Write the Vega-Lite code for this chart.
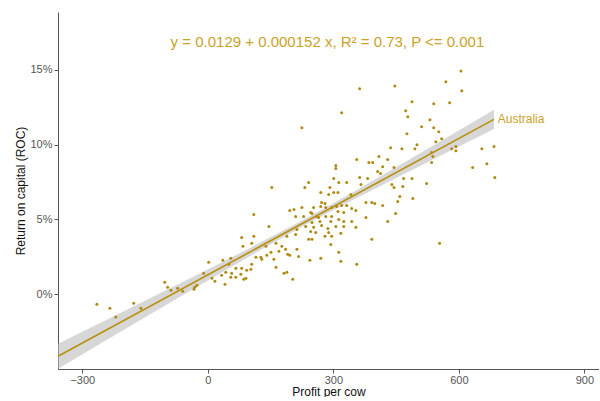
{
  "$schema": "https://vega.github.io/schema/vega-lite/v6.json",
  "width": 541,
  "height": 357,
  "padding": {"left": 14, "top": 12, "right": 0, "bottom": 0},
  "background": "white",
  "config": {
    "view": {"stroke": null},
    "font": "Liberation Sans",
    "axis": {"grid": false, "domainColor": "#555555", "tickColor": "#555555", "tickSize": 4, "labelColor": "#555555", "labelFontSize": 11, "titleColor": "#111111", "titleFontSize": 12, "titleFontWeight": "normal", "labelFont": "Liberation Sans", "titleFont": "Liberation Sans"}
  },
  "datasets": {
    "pts": [
      {"x": -265, "y": -0.0067}, {"x": -234, "y": -0.0093}, {"x": -220, "y": -0.0153}, {"x": -177, "y": -0.006}, {"x": -160, "y": -0.0093},
      {"x": -103, "y": 0.008}, {"x": -96, "y": 0.0047}, {"x": -88, "y": 0.0027}, {"x": -72, "y": 0.004}, {"x": -60, "y": 0.002},
      {"x": -33, "y": 0.0033}, {"x": -31, "y": 0.0047}, {"x": -26, "y": 0.006},
      {"x": -10, "y": 0.014}, {"x": 2, "y": 0.0213}, {"x": 10, "y": 0.0107}, {"x": 17, "y": 0.0087}, {"x": 33, "y": 0.0127},
      {"x": 36, "y": 0.0227}, {"x": 41, "y": 0.0067}, {"x": 43, "y": 0.0147}, {"x": 55, "y": 0.024}, {"x": 55, "y": 0.0113},
      {"x": 57, "y": 0.014}, {"x": 67, "y": 0.0173}, {"x": 67, "y": 0.0113}, {"x": 79, "y": 0.0133}, {"x": 81, "y": 0.038},
      {"x": 81, "y": 0.0173}, {"x": 84, "y": 0.032}, {"x": 86, "y": 0.01}, {"x": 93, "y": 0.016}, {"x": 105, "y": 0.034},
      {"x": 105, "y": 0.02}, {"x": 110, "y": 0.0533}, {"x": 110, "y": 0.0387}, {"x": 115, "y": 0.0247}, {"x": 127, "y": 0.0247},
      {"x": 129, "y": 0.0233}, {"x": 139, "y": 0.032}, {"x": 141, "y": 0.026}, {"x": 146, "y": 0.0453}, {"x": 151, "y": 0.028},
      {"x": 153, "y": 0.0713}, {"x": 158, "y": 0.0233}, {"x": 163, "y": 0.034}, {"x": 163, "y": 0.018}, {"x": 170, "y": 0.0287},
      {"x": 177, "y": 0.032}, {"x": 182, "y": 0.014}, {"x": 186, "y": 0.03}, {"x": 189, "y": 0.0387}, {"x": 191, "y": 0.0267},
      {"x": 196, "y": 0.056}, {"x": 196, "y": 0.026}, {"x": 203, "y": 0.01}, {"x": 206, "y": 0.0567}, {"x": 210, "y": 0.052},
      {"x": 213, "y": 0.0433}, {"x": 213, "y": 0.03}, {"x": 50, "y": 0.02}, {"x": 103, "y": 0.0167}, {"x": 189, "y": 0.0147},
      {"x": 91, "y": 0.0107},
      {"x": 225, "y": 0.1113}, {"x": 320, "y": 0.1213}, {"x": 363, "y": 0.1373}, {"x": 356, "y": 0.09}, {"x": 385, "y": 0.088},
      {"x": 394, "y": 0.088}, {"x": 409, "y": 0.092}, {"x": 418, "y": 0.0853}, {"x": 306, "y": 0.086}, {"x": 306, "y": 0.084},
      {"x": 301, "y": 0.0773}, {"x": 313, "y": 0.0747}, {"x": 332, "y": 0.0747}, {"x": 363, "y": 0.078}, {"x": 382, "y": 0.0773},
      {"x": 406, "y": 0.082}, {"x": 413, "y": 0.0807}, {"x": 241, "y": 0.0747}, {"x": 232, "y": 0.0713}, {"x": 292, "y": 0.0713},
      {"x": 366, "y": 0.0733}, {"x": 430, "y": 0.09}, {"x": 270, "y": 0.068}, {"x": 289, "y": 0.0667}, {"x": 301, "y": 0.068},
      {"x": 311, "y": 0.068}, {"x": 342, "y": 0.0667}, {"x": 272, "y": 0.0613}, {"x": 280, "y": 0.0607}, {"x": 270, "y": 0.0587},
      {"x": 282, "y": 0.058}, {"x": 225, "y": 0.058}, {"x": 253, "y": 0.058}, {"x": 296, "y": 0.058}, {"x": 308, "y": 0.0587},
      {"x": 320, "y": 0.0593}, {"x": 332, "y": 0.0593}, {"x": 344, "y": 0.0573}, {"x": 354, "y": 0.056}, {"x": 311, "y": 0.0553},
      {"x": 325, "y": 0.0547}, {"x": 378, "y": 0.0613}, {"x": 392, "y": 0.0613}, {"x": 399, "y": 0.0607}, {"x": 418, "y": 0.0593},
      {"x": 229, "y": 0.052}, {"x": 246, "y": 0.0547}, {"x": 249, "y": 0.054}, {"x": 261, "y": 0.052}, {"x": 268, "y": 0.0487},
      {"x": 282, "y": 0.052}, {"x": 296, "y": 0.052}, {"x": 249, "y": 0.048}, {"x": 294, "y": 0.0487}, {"x": 313, "y": 0.05},
      {"x": 325, "y": 0.0487}, {"x": 344, "y": 0.0487}, {"x": 378, "y": 0.0513}, {"x": 234, "y": 0.0453}, {"x": 253, "y": 0.0447},
      {"x": 272, "y": 0.046}, {"x": 287, "y": 0.044}, {"x": 306, "y": 0.0453}, {"x": 325, "y": 0.0453}, {"x": 354, "y": 0.0447},
      {"x": 210, "y": 0.04}, {"x": 246, "y": 0.042}, {"x": 258, "y": 0.0413}, {"x": 289, "y": 0.0413}, {"x": 318, "y": 0.0407},
      {"x": 280, "y": 0.0387}, {"x": 296, "y": 0.0387}, {"x": 241, "y": 0.0367}, {"x": 249, "y": 0.0367}, {"x": 294, "y": 0.0333},
      {"x": 392, "y": 0.0367}, {"x": 430, "y": 0.0487}, {"x": 313, "y": 0.028}, {"x": 217, "y": 0.0253}, {"x": 244, "y": 0.0227},
      {"x": 270, "y": 0.024}, {"x": 318, "y": 0.022}, {"x": 356, "y": 0.02}, {"x": 265, "y": 0.0513},
      {"x": 605, "y": 0.1493}, {"x": 569, "y": 0.142}, {"x": 607, "y": 0.136}, {"x": 447, "y": 0.1393}, {"x": 488, "y": 0.1287},
      {"x": 540, "y": 0.1273}, {"x": 578, "y": 0.128}, {"x": 473, "y": 0.1227}, {"x": 478, "y": 0.1187}, {"x": 531, "y": 0.1167},
      {"x": 511, "y": 0.112}, {"x": 540, "y": 0.1113}, {"x": 552, "y": 0.1087}, {"x": 476, "y": 0.1073}, {"x": 559, "y": 0.104},
      {"x": 545, "y": 0.102}, {"x": 500, "y": 0.1}, {"x": 535, "y": 0.0947}, {"x": 538, "y": 0.092}, {"x": 437, "y": 0.098},
      {"x": 464, "y": 0.0973}, {"x": 495, "y": 0.0973}, {"x": 583, "y": 0.0973}, {"x": 593, "y": 0.0987}, {"x": 593, "y": 0.096},
      {"x": 655, "y": 0.0973}, {"x": 684, "y": 0.0987}, {"x": 667, "y": 0.0873}, {"x": 633, "y": 0.0847}, {"x": 535, "y": 0.088},
      {"x": 445, "y": 0.0847}, {"x": 686, "y": 0.078}, {"x": 468, "y": 0.0773}, {"x": 488, "y": 0.0773}, {"x": 523, "y": 0.074},
      {"x": 440, "y": 0.0733}, {"x": 445, "y": 0.0713}, {"x": 466, "y": 0.072}, {"x": 459, "y": 0.0653}, {"x": 490, "y": 0.064},
      {"x": 454, "y": 0.062}, {"x": 449, "y": 0.054}, {"x": 554, "y": 0.034}
    ],
    "band": [
      {"x": -358, "lo": -0.0498, "hi": -0.0332},
      {"x": -250, "lo": -0.032, "hi": -0.0182},
      {"x": -100, "lo": -0.0072, "hi": 0.0026},
      {"x": 0, "lo": 0.0092, "hi": 0.0166},
      {"x": 100, "lo": 0.0254, "hi": 0.0308},
      {"x": 230, "lo": 0.0459, "hi": 0.0499},
      {"x": 350, "lo": 0.0635, "hi": 0.0687},
      {"x": 450, "lo": 0.0777, "hi": 0.0849},
      {"x": 550, "lo": 0.0917, "hi": 0.1013},
      {"x": 684, "lo": 0.1104, "hi": 0.1234}
    ],
    "fit": [
      {"x": -358, "y": -0.0415},
      {"x": 684, "y": 0.1169}
    ]
  },
  "layer": [
    {
      "data": {"name": "band"},
      "mark": {"type": "area", "color": "#BDBDBD", "opacity": 0.6},
      "encoding": {
        "x": {"field": "x", "type": "quantitative", "scale": {"domain": [-358, 935], "nice": false, "zero": false},
              "axis": {"values": [-300, 0, 300, 600, 900], "title": "Profit per cow", "titlePadding": 1, "labelPadding": 1}},
        "y": {"field": "lo", "type": "quantitative", "scale": {"domain": [-0.05, 0.1887], "nice": false, "zero": false},
              "axis": {"values": [0, 0.05, 0.1, 0.15], "format": ".0%", "title": "Return on capital (ROC)", "titlePadding": 2, "labelPadding": 2}},
        "y2": {"field": "hi"}
      }
    },
    {
      "data": {"name": "pts"},
      "mark": {"type": "circle", "color": "#B08A10", "opacity": 1, "size": 9},
      "encoding": {
        "x": {"field": "x", "type": "quantitative"},
        "y": {"field": "y", "type": "quantitative"}
      }
    },
    {
      "data": {"name": "fit"},
      "mark": {"type": "line", "color": "#B8900F", "strokeWidth": 1.6},
      "encoding": {
        "x": {"field": "x", "type": "quantitative"},
        "y": {"field": "y", "type": "quantitative"}
      }
    },
    {
      "data": {"values": [{"x": 693, "y": 0.1169, "t": "Australia"}]},
      "mark": {"type": "text", "align": "left", "baseline": "middle", "fontSize": 12, "color": "#C9A227"},
      "encoding": {
        "x": {"field": "x", "type": "quantitative"},
        "y": {"field": "y", "type": "quantitative"},
        "text": {"field": "t"}
      }
    },
    {
      "data": {"values": [{"x": 286, "y": 0.1687, "t": "y = 0.0129 + 0.000152 x, R² = 0.73, P <= 0.001"}]},
      "mark": {"type": "text", "align": "center", "baseline": "middle", "fontSize": 15, "color": "#C9A227"},
      "encoding": {
        "x": {"field": "x", "type": "quantitative"},
        "y": {"field": "y", "type": "quantitative"},
        "text": {"field": "t"}
      }
    }
  ]
}
